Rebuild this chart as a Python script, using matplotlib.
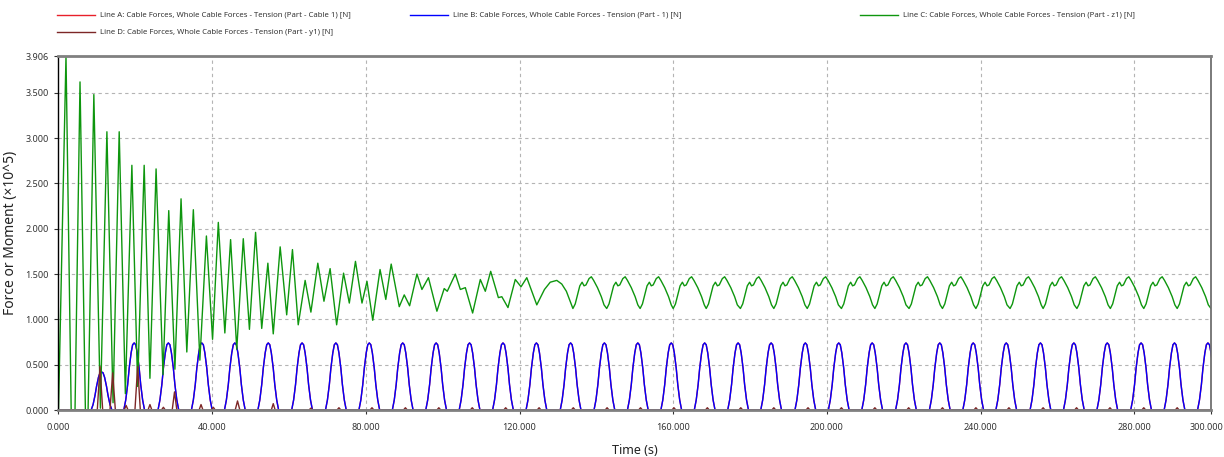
import matplotlib.pyplot as plt
from matplotlib.lines import Line2D
from matplotlib.transforms import ScaledTranslation

plt.rcParams['font.family'] = ['Noto Sans', 'DejaVu Sans']

# Line C (Part - z1): transient part, peaks and troughs
c_time = [0.0, 1.95, 3.3, 4.3, 5.6, 7.0, 7.7, 9.2, 10.9, 12.6, 14.2, 15.8, 17.4, 19.1,
          20.6, 22.3, 23.8, 25.4, 27.2, 28.7, 30.3, 31.9, 33.4, 35.1, 36.8, 38.5, 40.1,
          41.6, 43.3, 44.8, 46.4, 48.1, 49.7, 51.3, 52.9, 54.5, 55.9, 57.7, 59.4, 60.9,
          62.4, 64.2, 65.7, 67.5, 69.1, 70.7, 72.4, 74.2, 75.7, 77.3, 79.0, 80.3, 81.8,
          83.7, 85.2, 86.6, 88.7, 90.0, 91.4, 93.3, 94.6, 96.3, 98.5, 100.4, 101.2, 103.3,
          104.6, 105.9, 107.8, 109.8, 111.1, 112.5, 114.5, 115.4, 117.0, 118.9, 120.4,
          121.9, 124.5, 126.5, 128.0, 129.7, 131.0, 132.2]
c_val = [0.0, 3.906, 0.0, 0.0, 3.62, 0.0, 0.0, 3.48, 0.02, 3.07, 0.08, 3.07, 0.18, 2.70,
         0.26, 2.70, 0.35, 2.66, 0.39, 2.20, 0.45, 2.33, 0.64, 2.21, 0.55, 1.92, 0.78,
         2.07, 0.85, 1.88, 0.67, 1.89, 0.89, 1.96, 0.90, 1.62, 0.84, 1.80, 1.05, 1.77,
         0.94, 1.43, 1.08, 1.62, 1.20, 1.56, 0.94, 1.51, 1.18, 1.64, 1.18, 1.42, 0.99,
         1.55, 1.22, 1.61, 1.14, 1.27, 1.15, 1.50, 1.33, 1.46, 1.09, 1.34, 1.31, 1.50,
         1.33, 1.35, 1.07, 1.44, 1.31, 1.53, 1.24, 1.25, 1.13, 1.44, 1.36,
         1.46, 1.16, 1.33, 1.41, 1.43, 1.39, 1.31]
# steady part: trough of each cycle and the shape of one cycle
c_trough_time = [133.9, 142.7, 151.4, 160.0, 168.6, 177.5, 186.2, 194.9, 203.8, 212.5,
                 221.4, 230.1, 238.8, 247.7, 256.3, 265.1, 273.8, 282.5, 291.2, 300.0]
c_cycle_dt = [0.0, 0.6, 1.2, 1.8, 2.4, 2.9, 3.4, 4.2, 4.8, 5.4, 6.4, 7.4, 8.1]
c_cycle_val = [1.12, 1.17, 1.27, 1.37, 1.41, 1.37, 1.38, 1.45, 1.47, 1.43, 1.35, 1.25, 1.16]

# Line B (Part - 1): first small pulse, then one full pulse per cycle
b_pulse_dt = [-2.7, -2.2, -1.7, -1.3, -0.8, -0.4, 0.0, 0.4, 0.8, 1.3, 1.7, 2.2, 2.7]
b_first_time = 11.2
b_first_val = [0.0, 0.06, 0.16, 0.26, 0.36, 0.41, 0.42, 0.41, 0.36, 0.26, 0.16, 0.06, 0.0]
b_pulse_val = [0.0, 0.11, 0.28, 0.46, 0.63, 0.72, 0.74, 0.72, 0.63, 0.46, 0.28, 0.11, 0.0]
b_peak_time = [19.7, 28.6, 37.3, 45.9, 54.6, 63.4, 72.2, 80.9, 89.6, 98.3, 107.0, 115.7,
               124.4, 133.3, 142.1, 150.8, 159.5, 168.2, 176.9, 185.5, 194.4, 203.1,
               211.8, 220.6, 229.4, 238.1, 246.7, 255.6, 264.3, 273.0, 281.8, 290.5, 299.2]

# Line D (Part - y1): spikes in the first minute, tiny bumps afterwards
d_time = [0.0, 10.1, 10.8, 11.5, 13.4, 14.1, 14.8, 17.1, 17.6, 18.1, 19.9, 20.6, 21.3,
          23.3, 23.8, 24.3, 26.8, 27.3, 27.8, 29.6, 30.2, 30.8, 36.6, 37.1, 37.6, 39.8,
          40.3, 40.8, 46.0, 46.6, 47.2, 55.4, 55.9, 56.4, 65.2, 65.7, 66.2]
d_val = [0.0, 0.0, 0.48, 0.0, 0.0, 0.41, 0.0, 0.0, 0.05, 0.0, 0.0, 0.48, 0.0,
         0.0, 0.06, 0.0, 0.0, 0.03, 0.0, 0.0, 0.20, 0.0, 0.0, 0.06, 0.0, 0.0,
         0.03, 0.0, 0.0, 0.10, 0.0, 0.0, 0.07, 0.0, 0.0, 0.02, 0.0]
d_bump_time = [73.0, 81.6, 90.3, 99.0, 107.7, 116.4, 125.1, 134.0, 142.8, 151.5, 160.2,
               168.9, 177.6, 186.2, 195.1, 203.8, 212.5, 221.3, 230.1, 238.8, 247.4,
               256.3, 265.0, 273.7, 282.5, 291.2]
d_bump_dt = [-0.5, 0.0, 0.5]
d_bump_val = [0.0, 0.025, 0.0]

x_ticks = [0, 40, 80, 120, 160, 200, 240, 280, 300]
y_ticks = [0.0, 0.5, 1.0, 1.5, 2.0, 2.5, 3.0, 3.5, 3.906]

labels = ['Line A: Cable Forces, Whole Cable Forces - Tension (Part - Cable 1) [N]',
          'Line B: Cable Forces, Whole Cable Forces - Tension (Part - 1) [N]',
          'Line C: Cable Forces, Whole Cable Forces - Tension (Part - z1) [N]',
          'Line D: Cable Forces, Whole Cable Forces - Tension (Part - y1) [N]']
colors = ['#e8202a', '#0000ff', '#0e960e', '#7d2727']

# assemble the series
t_c = list(c_time)
v_c = list(c_val)
for t0 in c_trough_time:
    for dt, v in zip(c_cycle_dt, c_cycle_val):
        t_c.append(t0 + dt)
        v_c.append(v)

t_b = [0.0]
v_b = [0.0]
for dt, v in zip(b_pulse_dt, b_first_val):
    t_b.append(b_first_time + dt)
    v_b.append(v)
for t0 in b_peak_time:
    for dt, v in zip(b_pulse_dt, b_pulse_val):
        t_b.append(t0 + dt)
        v_b.append(v)

t_d = list(d_time)
v_d = list(d_val)
for t0 in d_bump_time:
    for dt, v in zip(d_bump_dt, d_bump_val):
        t_d.append(t0 + dt)
        v_d.append(v)
t_d.append(300.0)
v_d.append(0.0)

fig = plt.figure(figsize=(12.24, 4.57), dpi=100)
W, H = 1224, 457
ax = fig.add_axes([58.5 / W, 1 - 410 / H, (1211 - 58.5) / W, (410 - 56) / H])

ax.plot(t_b, v_b, color=colors[0], lw=1.0, zorder=2.0)
ax.plot(t_b, v_b, color=colors[1], lw=1.0, zorder=2.1)
ax.plot(t_c, v_c, color=colors[2], lw=1.0, zorder=2.2)
ax.plot(t_d, v_d, color=colors[3], lw=1.0, zorder=2.3)

ax.set_xlim(0, 300)
ax.set_ylim(0, 3.906)
ax.set_xticks(x_ticks)
ax.set_xticklabels([f'{x:.3f}' for x in x_ticks])
ax.set_yticks(y_ticks)
ax.set_yticklabels([f'{y:.3f}' for y in y_ticks])
ax.tick_params(axis='both', labelsize=6.5, colors='#333333', length=3, width=0.8)
ax.tick_params(axis='x', pad=6)
ax.tick_params(axis='y', pad=4)

# last x label sits against the right edge of the picture
last = ax.get_xticklabels()[-1]
last.set_horizontalalignment('right')
last.set_transform(last.get_transform() + ScaledTranslation(12 / 100, 0, fig.dpi_scale_trans))

for x in x_ticks[1:-1]:
    ax.axvline(x, color='#b4b4b4', lw=0.8, ls=(0, (3, 3)), zorder=1)
for y in y_ticks[1:-1]:
    ax.axhline(y, color='#b4b4b4', lw=0.8, ls=(0, (3, 3)), zorder=1)

ax.spines['left'].set_color('black')
ax.spines['left'].set_linewidth(1.0)
ax.spines['right'].set_color('#707070')
ax.spines['right'].set_linewidth(1.3)
ax.spines['top'].set_color('#808080')
ax.spines['top'].set_linewidth(2.0)
ax.spines['bottom'].set_color('#808080')
ax.spines['bottom'].set_linewidth(2.0)

ax.set_xlabel('Time (s)', fontsize=9, color='#222222')
ax.xaxis.set_label_coords(0.5, -0.095)
ax.set_ylabel('Force or Moment (×10^5)', fontsize=10, color='#222222')
ax.yaxis.set_label_coords(-0.035, 0.5)

# legend laid out like the original: three entries on the first row, one on the second
legend_pos = [(57, 15), (410, 15), (860, 15), (57, 32)]
for (x0, y0), lab, col in zip(legend_pos, labels, colors):
    fig.add_artist(Line2D([x0 / W, (x0 + 38) / W], [1 - y0 / H, 1 - y0 / H],
                          color=col, lw=1.0, transform=fig.transFigure))
    fig.text((x0 + 43) / W, 1 - y0 / H, lab, fontsize=5.6, color='#333333',
             va='center', ha='left')

fig.savefig('out.png', dpi=100)
